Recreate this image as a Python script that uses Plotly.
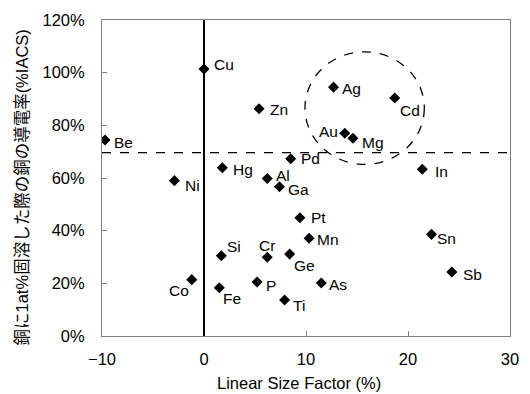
import plotly.graph_objects as go

elements = ["Cu", "Zn", "Be", "Hg", "Ni", "Al", "Ga", "Pd", "Ag", "Cd", "Au", "Mg", "In",
            "Si", "Cr", "Ge", "Co", "Fe", "P", "Ti", "Pt", "Mn", "As", "Sn", "Sb"]
size_factor = [0.0, 5.4, -9.7, 1.8, -2.9, 6.2, 7.4, 8.5, 12.7, 18.7, 13.8, 14.6, 21.4,
               1.7, 6.2, 8.4, -1.2, 1.5, 5.2, 7.9, 9.4, 10.3, 11.5, 22.3, 24.3]
conductivity = [101.4, 86.3, 74.4, 63.9, 59.0, 59.8, 56.7, 67.3, 94.5, 90.4, 77.0, 75.1, 63.3,
                30.5, 29.9, 31.1, 21.4, 18.3, 20.5, 13.7, 44.9, 37.1, 20.1, 38.6, 24.3]
threshold = 69.6
circle_x = [9.9, 21.6]
circle_y = [65.2, 107.9]
x_ticks = [-10, 0, 10, 20, 30]
y_ticks = [0, 20, 40, 60, 80, 100, 120]
y_ticklabels = ["0%", "20%", "40%", "60%", "80%", "100%", "120%"]
x_title = "Linear Size Factor (%)"
y_title = "銅に1at%固溶した際の銅の導電率(%IACS)"

# label placement (pixels): anchor, dx, dy
label_style = {
    "Cu": ("left", 8, 4), "Zn": ("left", 9, -1), "Be": ("left", 7, -2), "Hg": ("left", 9, -2),
    "Ni": ("left", 9, -5), "Al": ("left", 7, 3), "Ga": ("left", 7, -3), "Pd": ("left", 8, 0),
    "Ag": ("left", 6, -1), "Cd": ("left", 3, -13), "Au": ("right", -5, 2), "Mg": ("left", 7, -4),
    "In": ("left", 11, -2), "Si": ("left", 4, 9), "Cr": ("center", 0, 12), "Ge": ("left", 2, -11),
    "Co": ("right", -1, -11), "Fe": ("left", 2, -11), "P": ("left", 7, -3), "Ti": ("left", 6, -6),
    "Pt": ("left", 9, 0), "Mn": ("left", 6, -1), "As": ("left", 6, -1), "Sn": ("left", 4, -4),
    "Sb": ("left", 9, -2),
}

font_family = "Liberation Sans, Arial, Noto Sans CJK JP, sans-serif"

fig = go.Figure()
fig.add_trace(go.Scatter(
    x=size_factor, y=conductivity, mode="markers",
    marker=dict(symbol="diamond", size=8.5, color="black"),
    showlegend=False, hoverinfo="skip",
))

annotations = []
for name, xv, yv in zip(elements, size_factor, conductivity):
    anc, dx, dy = label_style[name]
    annotations.append(dict(
        x=xv, y=yv, xref="x", yref="y", text=name, showarrow=False,
        xanchor=anc, yanchor="middle", xshift=dx, yshift=dy,
        font=dict(size=15.5, color="black", family=font_family),
    ))

annotations.append(dict(
    x=0.483, y=0, xref="paper", yref="paper", text=x_title, showarrow=False,
    xanchor="center", yanchor="middle", yshift=-46.5,
    font=dict(size=16.5, color="black", family=font_family),
))
annotations.append(dict(
    x=0, y=0.47, xref="paper", yref="paper", text=y_title, showarrow=False,
    xanchor="center", yanchor="middle", xshift=-80, textangle=-90,
    font=dict(size=16.5, color="black", family=font_family),
))

shapes = [
    dict(type="line", xref="x", yref="y", x0=0, x1=0, y0=0, y1=120,
         line=dict(color="black", width=2)),
    dict(type="line", xref="paper", yref="y", x0=0, x1=1, y0=threshold, y1=threshold,
         line=dict(color="black", width=1.3, dash="dash")),
    dict(type="circle", xref="x", yref="y", x0=circle_x[0], x1=circle_x[1],
         y0=circle_y[0], y1=circle_y[1], line=dict(color="black", width=1.3, dash="dash")),
]

fig.update_layout(
    width=530, height=394,
    margin=dict(l=102, r=11, t=16, b=58),
    paper_bgcolor="white", plot_bgcolor="white",
    font=dict(family=font_family, size=16, color="black"),
    annotations=annotations, shapes=shapes,
    xaxis=dict(
        range=[-10, 30], tickmode="array", tickvals=x_ticks, showgrid=False, zeroline=False,
        ticks="inside", ticklen=5, tickcolor="#808080", showline=True, linecolor="#808080",
        linewidth=1, mirror=True, ticklabelstandoff=8,
        tickfont=dict(size=16.5),
    ),
    yaxis=dict(
        range=[0, 120], tickmode="array", tickvals=y_ticks, ticktext=y_ticklabels,
        showgrid=False, zeroline=False, ticks="inside", ticklen=5, tickcolor="#808080",
        showline=True, linecolor="#808080", linewidth=1, mirror=True, ticklabelstandoff=13,
        tickfont=dict(size=16.5),
    ),
)

fig.write_html("out.html")
